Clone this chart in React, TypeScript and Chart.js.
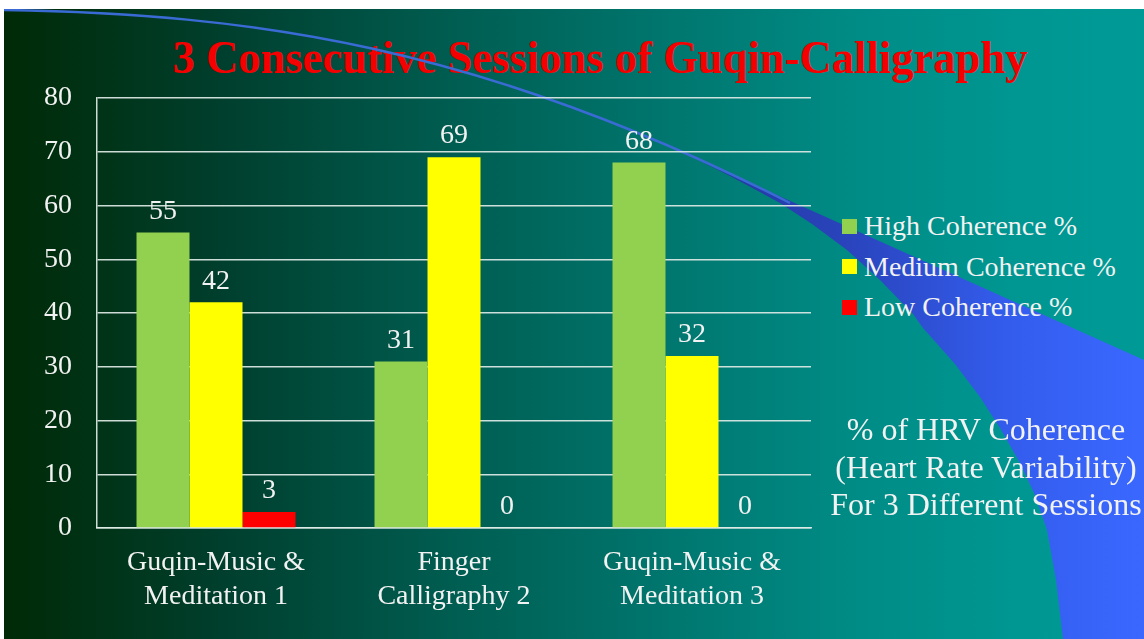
import React, { useEffect, useRef } from "react";
import { Chart, registerables } from "chart.js";

Chart.register(...registerables);

// ---------- data ----------
const categories: string[][] = [
  ["Guqin-Music &", "Meditation 1"],
  ["Finger", "Calligraphy 2"],
  ["Guqin-Music &", "Meditation 3"],
];
const seriesNames = ["High Coherence %", "Medium Coherence %", "Low Coherence %"];
const highValues = [55, 31, 68];
const mediumValues = [42, 69, 32];
const lowValues = [3, 0, 0];
const seriesColors = ["#92d050", "#ffff00", "#ff0000"];
const yMin = 0;
const yMax = 80;
const yStep = 10;
const titleText = "3 Consecutive Sessions of Guqin-Calligraphy";
const noteLines = ["% of HRV Coherence", "(Heart Rate Variability)", "For 3 Different Sessions"];

const FAMILY = "'Liberation Serif', 'Times New Roman', serif";
const TEXT = "#f2f2f2";
const GRID = "rgba(222,234,230,0.92)";

const valueLabels = {
  id: "valueLabels",
  afterDatasetsDraw(chart: any) {
    const ctx = chart.ctx;
    ctx.save();
    ctx.font = `28px ${FAMILY}`;
    ctx.fillStyle = TEXT;
    ctx.textAlign = "center";
    ctx.textBaseline = "middle";
    chart.data.datasets.forEach((ds: any, i: number) => {
      const meta = chart.getDatasetMeta(i);
      meta.data.forEach((bar: any, j: number) => {
        ctx.fillText(String(ds.data[j]), bar.x, bar.y - 21);
      });
    });
    ctx.restore();
  },
};

export default function App() {
  const canvasRef = useRef<HTMLCanvasElement>(null);

  useEffect(() => {
    const canvas = canvasRef.current;
    if (!canvas) return;
    const seriesValues = [highValues, mediumValues, lowValues];
    const chart = new Chart(canvas, {
      type: "bar",
      data: {
        labels: categories as any,
        datasets: seriesNames.map((name, i) => ({
          label: name,
          data: seriesValues[i],
          backgroundColor: seriesColors[i],
          borderWidth: 0,
          categoryPercentage: 0.668,
          barPercentage: 1,
        })),
      },
      options: {
        responsive: false,
        animation: false,
        layout: { padding: { top: 89, right: 13, left: 0, bottom: 0 } },
        plugins: {
          legend: { display: false },
          title: { display: false },
          tooltip: { enabled: false },
        },
        scales: {
          x: {
            grid: { display: false, drawTicks: false },
            border: { display: true, color: GRID, width: 1.5 },
            ticks: {
              color: TEXT,
              font: { size: 28, family: FAMILY, lineHeight: 1.2 },
              padding: 18,
              maxRotation: 0,
              autoSkip: false,
            },
            afterFit: (s: any) => {
              s.height = 111;
            },
          },
          y: {
            min: yMin,
            max: yMax,
            grid: { color: GRID, lineWidth: 1.5, drawTicks: false },
            border: { display: true, color: GRID, width: 1.5 },
            ticks: {
              stepSize: yStep,
              color: TEXT,
              font: { size: 28, family: FAMILY },
              padding: 25,
            },
            afterFit: (s: any) => {
              s.width = 93;
            },
          },
        },
      },
      plugins: [valueLabels],
    });
    return () => chart.destroy();
  }, []);

  const lowerEdge =
    "1063,639 1056,580 1047,530 1035,495 1020,463 1000,428 980,397 955,364 923,328 913,314 880,280 847,250 812,224 780,203 730,176 690,156";

  return (
    <div
      style={{
        position: "fixed",
        left: 0,
        top: 0,
        width: 1144,
        height: 639,
        background: "#ffffff",
        overflow: "hidden",
        fontFamily: FAMILY,
      }}
    >
      {/* slide background */}
      <div
        style={{
          position: "absolute",
          left: 4,
          top: 9,
          width: 1140,
          height: 630,
          background:
            "linear-gradient(90deg, #002a06 0%, #00402f 20%, #005e52 40%, #00766e 58%, #008c86 75%, #009792 90%, #009a96 100%)",
        }}
      />
      {/* title */}
      <div
        style={{
          position: "absolute",
          left: 28,
          top: 27,
          width: 1144,
          height: 60,
          lineHeight: "60px",
          textAlign: "center",
          fontSize: 47,
          fontWeight: "bold",
          color: "#f40000",
          whiteSpace: "nowrap",
          transform: "scaleX(0.949)",
          transformOrigin: "572px 0",
        }}
      >
        {titleText}
      </div>
      {/* swoosh */}
      <svg
        width={1144}
        height={639}
        style={{ position: "absolute", left: 0, top: 0 }}
      >
        <defs>
          <clipPath id="slideClip">
            <rect x={4} y={9} width={1140} height={630} />
          </clipPath>
          <linearGradient id="bandGrad" gradientUnits="userSpaceOnUse" x1={680} y1={0} x2={1144} y2={0}>
            <stop offset="0" stopColor="#22379a" />
            <stop offset="0.35" stopColor="#2943bb" />
            <stop offset="0.7" stopColor="#335cec" />
            <stop offset="1" stopColor="#3a68ff" />
          </linearGradient>
        </defs>
        <g clipPath="url(#slideClip)">
          <polygon points={`690,156 1144,360 1144,639 ${lowerEdge}`} fill="url(#bandGrad)" />
          <path
            d="M 4 10 C 250 14, 480 45, 790 203"
            fill="none"
            stroke="#3a6bd4"
            strokeWidth={2.5}
          />
        </g>
      </svg>
      {/* chart */}
      <canvas
        ref={canvasRef}
        width={820}
        height={630}
        style={{ position: "absolute", left: 4, top: 9, width: 820, height: 630 }}
      />
      {/* legend */}
      <div style={{ position: "absolute", left: 842, top: 206 }}>
        {seriesNames.map((name, i) => (
          <div
            key={name}
            style={{
              display: "flex",
              alignItems: "center",
              height: 40.5,
              lineHeight: "40.5px",
              fontSize: 28,
              color: TEXT,
              whiteSpace: "nowrap",
            }}
          >
            <span
              style={{
                display: "inline-block",
                width: 15,
                height: 15,
                background: seriesColors[i],
                marginRight: 7,
              }}
            />
            {name}
          </div>
        ))}
      </div>
      {/* note */}
      <div
        style={{
          position: "absolute",
          left: 786,
          top: 411,
          width: 400,
          textAlign: "center",
          fontSize: 32,
          lineHeight: "37.5px",
          color: TEXT,
          whiteSpace: "nowrap",
        }}
      >
        {noteLines.map((l) => (
          <div key={l}>{l}</div>
        ))}
      </div>
    </div>
  );
}
